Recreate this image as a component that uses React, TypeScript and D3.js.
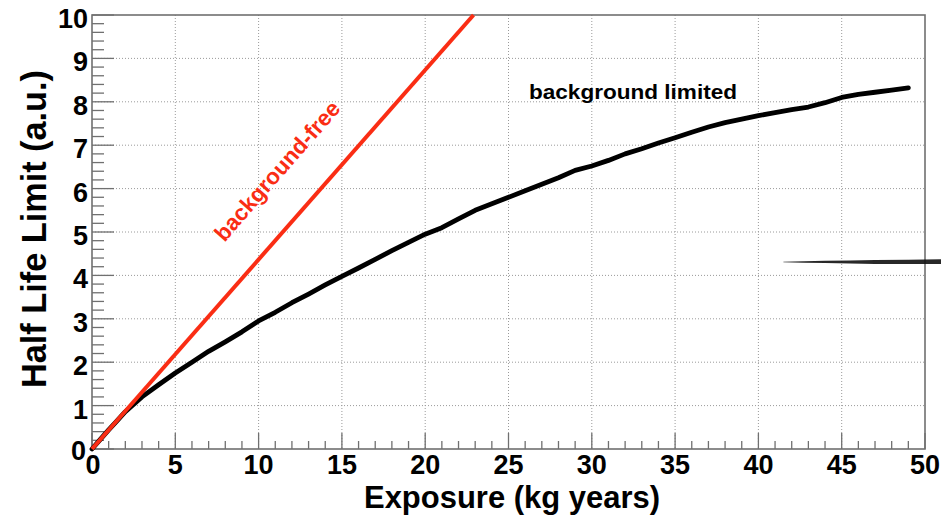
import React from "react";
import * as d3 from "d3";

const xTicks = [0, 5, 10, 15, 20, 25, 30, 35, 40, 45, 50];
const yTicks = [0, 1, 2, 3, 4, 5, 6, 7, 8, 9, 10];

const freeX = [0, 22.9];
const freeY = [0, 10];

const limitedX = [0, 0.5, 1, 1.5, 2, 3, 4, 5, 6, 7, 8, 9, 10, 11, 12, 13, 14, 15, 16, 17, 18, 19, 20, 21, 22, 23, 24, 25, 26, 27, 28, 29, 30, 31, 32, 33, 34, 35, 36, 37, 38, 39, 40, 41, 42, 43, 44, 45, 46, 47, 48, 49];
const limitedY = [0, 0.22, 0.44, 0.65, 0.86, 1.2, 1.48, 1.75, 2.0, 2.25, 2.47, 2.7, 2.95, 3.15, 3.37, 3.57, 3.78, 3.98, 4.17, 4.37, 4.57, 4.76, 4.95, 5.1, 5.3, 5.5, 5.65, 5.8, 5.95, 6.1, 6.25, 6.42, 6.52, 6.65, 6.8, 6.92, 7.05, 7.17, 7.3, 7.42, 7.52, 7.6, 7.68, 7.75, 7.82, 7.88, 7.98, 8.1, 8.17, 8.22, 8.27, 8.32];

// stray horizontal stroke at right side
const strokeX = [41.5, 44, 47, 51];
const strokeY = [4.31, 4.31, 4.31, 4.32];
const strokeHalf = [0.005, 0.025, 0.045, 0.055];

const W = 941;
const H = 526;
const left = 92;
const right = 925;
const top = 15;
const bottom = 449;

export default function App() {
  const x = d3.scaleLinear().domain([0, 50]).range([left, right]);
  const y = d3.scaleLinear().domain([0, 10]).range([bottom, top]);

  const line = d3
    .line<[number, number]>()
    .x((d) => x(d[0]))
    .y((d) => y(d[1]));

  const freePts: [number, number][] = freeX.map((v, i) => [v, freeY[i]]);
  const limPts: [number, number][] = limitedX.map((v, i) => [v, limitedY[i]]);

  const strokeArea = d3
    .area<number>()
    .x((i) => x(strokeX[i]))
    .y0((i) => y(strokeY[i] - strokeHalf[i]))
    .y1((i) => y(strokeY[i] + strokeHalf[i]))
    .curve(d3.curveMonotoneX);

  const xMinor = d3.range(0, 51, 1).filter((v) => v % 5 !== 0);
  const yMinor = d3.range(0, 10.01, 0.2).filter((v) => Math.abs(v - Math.round(v)) > 0.01);

  const axisColor = "#707070";
  const gridColor = "#9a9a9a";
  const font = "'Liberation Sans', Arial, Helvetica, sans-serif";

  const freeAngle =
    (-Math.atan2(y(0) - y(10), x(22.9) - x(0)) * 180) / Math.PI;

  return (
    <svg
      width={W}
      height={H}
      style={{ position: "absolute", left: 0, top: 0, background: "#fff" }}
    >
      <rect x={0} y={0} width={W} height={H} fill="#fff" />
      {/* grid */}
      <g stroke={gridColor} strokeWidth={1} strokeDasharray="1 2">
        {xTicks.slice(1, -1).map((t) => (
          <line key={"gx" + t} x1={x(t)} x2={x(t)} y1={top} y2={bottom} />
        ))}
        {yTicks.slice(1, -1).map((t) => (
          <line key={"gy" + t} x1={left} x2={right} y1={y(t)} y2={y(t)} />
        ))}
      </g>
      {/* ticks */}
      <g stroke={axisColor} strokeWidth={1.3}>
        {xTicks.map((t) => (
          <line key={"tx" + t} x1={x(t)} x2={x(t)} y1={bottom} y2={bottom - 16} />
        ))}
        {xMinor.map((t) => (
          <line key={"mx" + t} x1={x(t)} x2={x(t)} y1={bottom} y2={bottom - 8} />
        ))}
        {yTicks.map((t) => (
          <line key={"ty" + t} x1={left} x2={left + 22} y1={y(t)} y2={y(t)} />
        ))}
        {yMinor.map((t) => (
          <line key={"my" + t} x1={left} x2={left + 12} y1={y(t)} y2={y(t)} />
        ))}
      </g>
      {/* frame */}
      <rect
        x={left}
        y={top}
        width={right - left}
        height={bottom - top}
        fill="none"
        stroke={axisColor}
        strokeWidth={1.6}
      />
      {/* curves */}
      <path
        d={line(limPts) || ""}
        fill="none"
        stroke="#000"
        strokeWidth={4.8}
        strokeLinejoin="round"
        strokeLinecap="round"
      />
      <path
        d={line(freePts) || ""}
        fill="none"
        stroke="#fa2d14"
        strokeWidth={4}
      />
      <path
        d={strokeArea(d3.range(strokeX.length)) || ""}
        fill="#111"
        opacity={0.9}
      />
      {/* tick labels */}
      <g fontFamily={font} fontWeight="bold" fontSize={27} fill="#000">
        {xTicks.map((t) => (
          <text key={"lx" + t} x={x(t) + (t === 0 ? 1 : 0)} y={474} textAnchor="middle">
            {t}
          </text>
        ))}
        {yTicks.map((t) => (
          <text key={"ly" + t} x={t === 0 ? 86 : 88} y={y(t) + (t === 0 ? 11 : 13)} textAnchor="end">
            {t}
          </text>
        ))}
      </g>
      {/* axis titles */}
      <text
        x={512}
        y={508}
        textAnchor="middle"
        fontFamily={font}
        fontWeight="bold"
        fontSize={31}
        textLength={296}
        lengthAdjust="spacingAndGlyphs"
        fill="#000"
      >
        Exposure (kg years)
      </text>
      <text
        transform={`translate(46,229) rotate(-90)`}
        textAnchor="middle"
        fontFamily={font}
        fontWeight="bold"
        fontSize={35}
        textLength={318}
        lengthAdjust="spacingAndGlyphs"
        fill="#000"
      >
        Half Life Limit (a.u.)
      </text>
      {/* annotations */}
      <text
        x={529}
        y={99}
        fontFamily={font}
        fontWeight="bold"
        fontSize={21}
        textLength={208}
        lengthAdjust="spacingAndGlyphs"
        fill="#000"
      >
        background limited
      </text>
      <text
        transform={`translate(283,176) rotate(${freeAngle})`}
        textAnchor="middle"
        fontFamily={font}
        fontWeight="bold"
        fontSize={22.5}
        fill="#fa2d14"
      >
        background-free
      </text>
    </svg>
  );
}
